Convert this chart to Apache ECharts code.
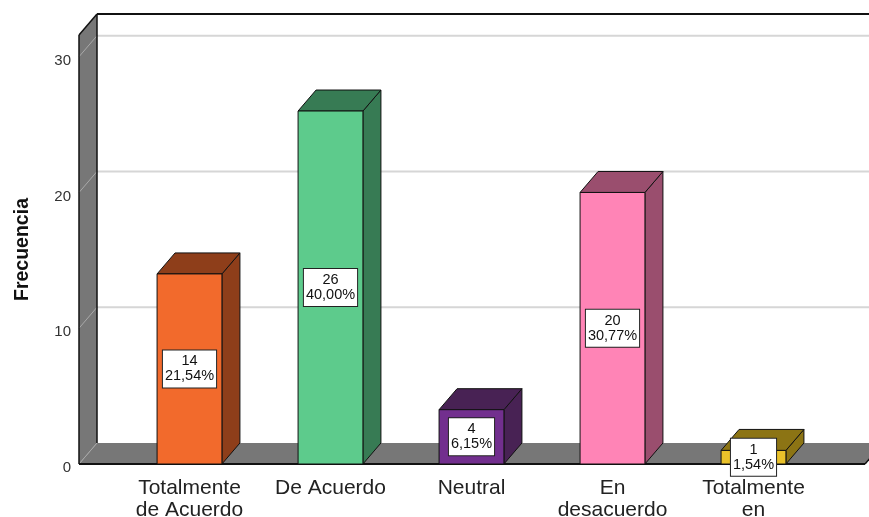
<!DOCTYPE html>
<html><head><meta charset="utf-8">
<script src="https://cdn.jsdelivr.net/npm/echarts@6/dist/echarts.min.js"></script>
<style>html,body{margin:0;padding:0;background:#fff}#c{width:869px;height:517px}</style>
</head><body><div id="c"></div>
<script>
const categories = ['Totalmente\nde Acuerdo', 'De Acuerdo', 'Neutral', 'En\ndesacuerdo', 'Totalmente\nen'];
const frequencies = [14, 26, 4, 20, 1];
const percentLabels = ['21,54%', '40,00%', '6,15%', '30,77%', '1,54%'];
const frontColors = ['#F26A2C', '#5DCB8C', '#722F8E', '#FF84B6', '#E9C12A'];
const sideColors = ['#8E3E1A', '#377B54', '#482254', '#9A4E6E', '#8C7414'];
const yTicks = [0, 10, 20, 30];

const FONT = "'Liberation Sans', Arial, sans-serif";
const DX = 18, DY = -21;

const chart = echarts.init(document.getElementById('c'), null, {renderer: 'canvas'});

function renderWalls(params, api) {
  const cs = params.coordSys;
  const y0 = api.coord([0, 0])[1];
  const yTop = cs.y;
  const L = cs.x - 40;
  const R = cs.x + cs.width + 41;
  const W = api.getWidth();
  const ch = [];
  ch.push({type: 'polygon', shape: {points: [[L, yTop], [L + DX, yTop + DY], [L + DX, y0 + DY], [L, y0]]},
    style: {fill: '#777777', stroke: null}});
  ch.push({type: 'polygon', shape: {points: [[L, y0], [L + DX, y0 + DY], [R + DX, y0 + DY], [R, y0]]},
    style: {fill: '#777777', stroke: null}});
  yTicks.forEach(function (v) {
    const y = api.coord([0, v])[1];
    if (v > 0) {
      ch.push({type: 'line', shape: {x1: L + DX, y1: y + DY, x2: W, y2: y + DY}, style: {stroke: '#d6d6d6', lineWidth: 2}});
    }
    ch.push({type: 'line', shape: {x1: L, y1: y, x2: L + DX, y2: y + DY}, style: {stroke: '#a9a9a9', lineWidth: 1}});
  });
  ch.push({type: 'line', shape: {x1: L + DX, y1: yTop + DY, x2: W, y2: yTop + DY}, style: {stroke: '#111', lineWidth: 2}});
  ch.push({type: 'line', shape: {x1: L + DX, y1: yTop + DY, x2: L + DX, y2: y0 + DY}, style: {stroke: '#111', lineWidth: 1.5}});
  ch.push({type: 'line', shape: {x1: L, y1: yTop, x2: L + DX, y2: yTop + DY}, style: {stroke: '#111', lineWidth: 1.5}});
  ch.push({type: 'line', shape: {x1: L, y1: yTop, x2: L, y2: y0}, style: {stroke: '#111', lineWidth: 1.5}});
  ch.push({type: 'line', shape: {x1: L, y1: y0, x2: R, y2: y0}, style: {stroke: '#111', lineWidth: 2}});
  ch.push({type: 'line', shape: {x1: R, y1: y0, x2: R + DX, y2: y0 + DY}, style: {stroke: '#111', lineWidth: 1.5}});
  return {type: 'group', children: ch};
}

function renderBar(params, api) {
  const i = params.dataIndex;
  const idx = api.value(0), v = api.value(1);
  const top = api.coord([idx, v]);
  const base = api.coord([idx, 0]);
  const mid = api.coord([idx, v / 2]);
  const w = api.size([1, 0])[0] * 0.46;
  const x0 = top[0] - w / 2, x1 = top[0] + w / 2;
  const stroke = {stroke: '#111', lineWidth: 1};
  return {
    type: 'group',
    children: [
      {type: 'polygon', shape: {points: [[x1, top[1]], [x1 + DX, top[1] + DY], [x1 + DX, base[1] + DY], [x1, base[1]]]},
        style: Object.assign({fill: sideColors[i]}, stroke)},
      {type: 'polygon', shape: {points: [[x0, top[1]], [x0 + DX, top[1] + DY], [x1 + DX, top[1] + DY], [x1, top[1]]]},
        style: Object.assign({fill: sideColors[i]}, stroke)},
      {type: 'rect', shape: {x: x0, y: top[1], width: w, height: base[1] - top[1]},
        style: Object.assign({fill: frontColors[i]}, stroke)},
      {type: 'text', x: top[0], y: mid[1], z2: 10,
        style: {text: frequencies[i] + '\n' + percentLabels[i], fontSize: 14.5, fontFamily: FONT, fill: '#111',
          align: 'center', verticalAlign: 'middle', lineHeight: 15,
          backgroundColor: '#fff', borderColor: '#222', borderWidth: 1, padding: [4, 2, 3, 2]}}
    ]
  };
}

chart.setOption({
  animation: false,
  backgroundColor: '#fff',
  grid: {left: 119, right: 45, top: 35, bottom: 53, containLabel: false, outerBoundsMode: 'none'},
  xAxis: {
    type: 'category', data: categories,
    axisLine: {show: false}, axisTick: {show: false}, splitLine: {show: false},
    axisLabel: {interval: 0, fontSize: 21, lineHeight: 22, color: '#222', fontFamily: FONT, margin: 13}
  },
  yAxis: {
    type: 'value', min: 0, max: 31.6, interval: 10,
    name: 'Frecuencia', nameLocation: 'middle', nameRotate: 90, nameGap: 86,
    nameTextStyle: {fontSize: 19.5, fontWeight: 'bold', color: '#111', fontFamily: FONT},
    axisLine: {show: false}, axisTick: {show: false}, splitLine: {show: false},
    axisLabel: {showMaxLabel: false, margin: 48, formatter: '{t|{value}}',
      rich: {t: {fontSize: 15, color: '#333', fontFamily: FONT, padding: [8, 0, 0, 0]}}}
  },
  series: [
    {type: 'custom', renderItem: renderWalls, data: [[0, 0]], z: 1, silent: true},
    {type: 'custom', renderItem: renderBar, z: 2,
      data: frequencies.map(function (f, i) { return [i, f]; })}
  ]
});
</script>
</body></html>
